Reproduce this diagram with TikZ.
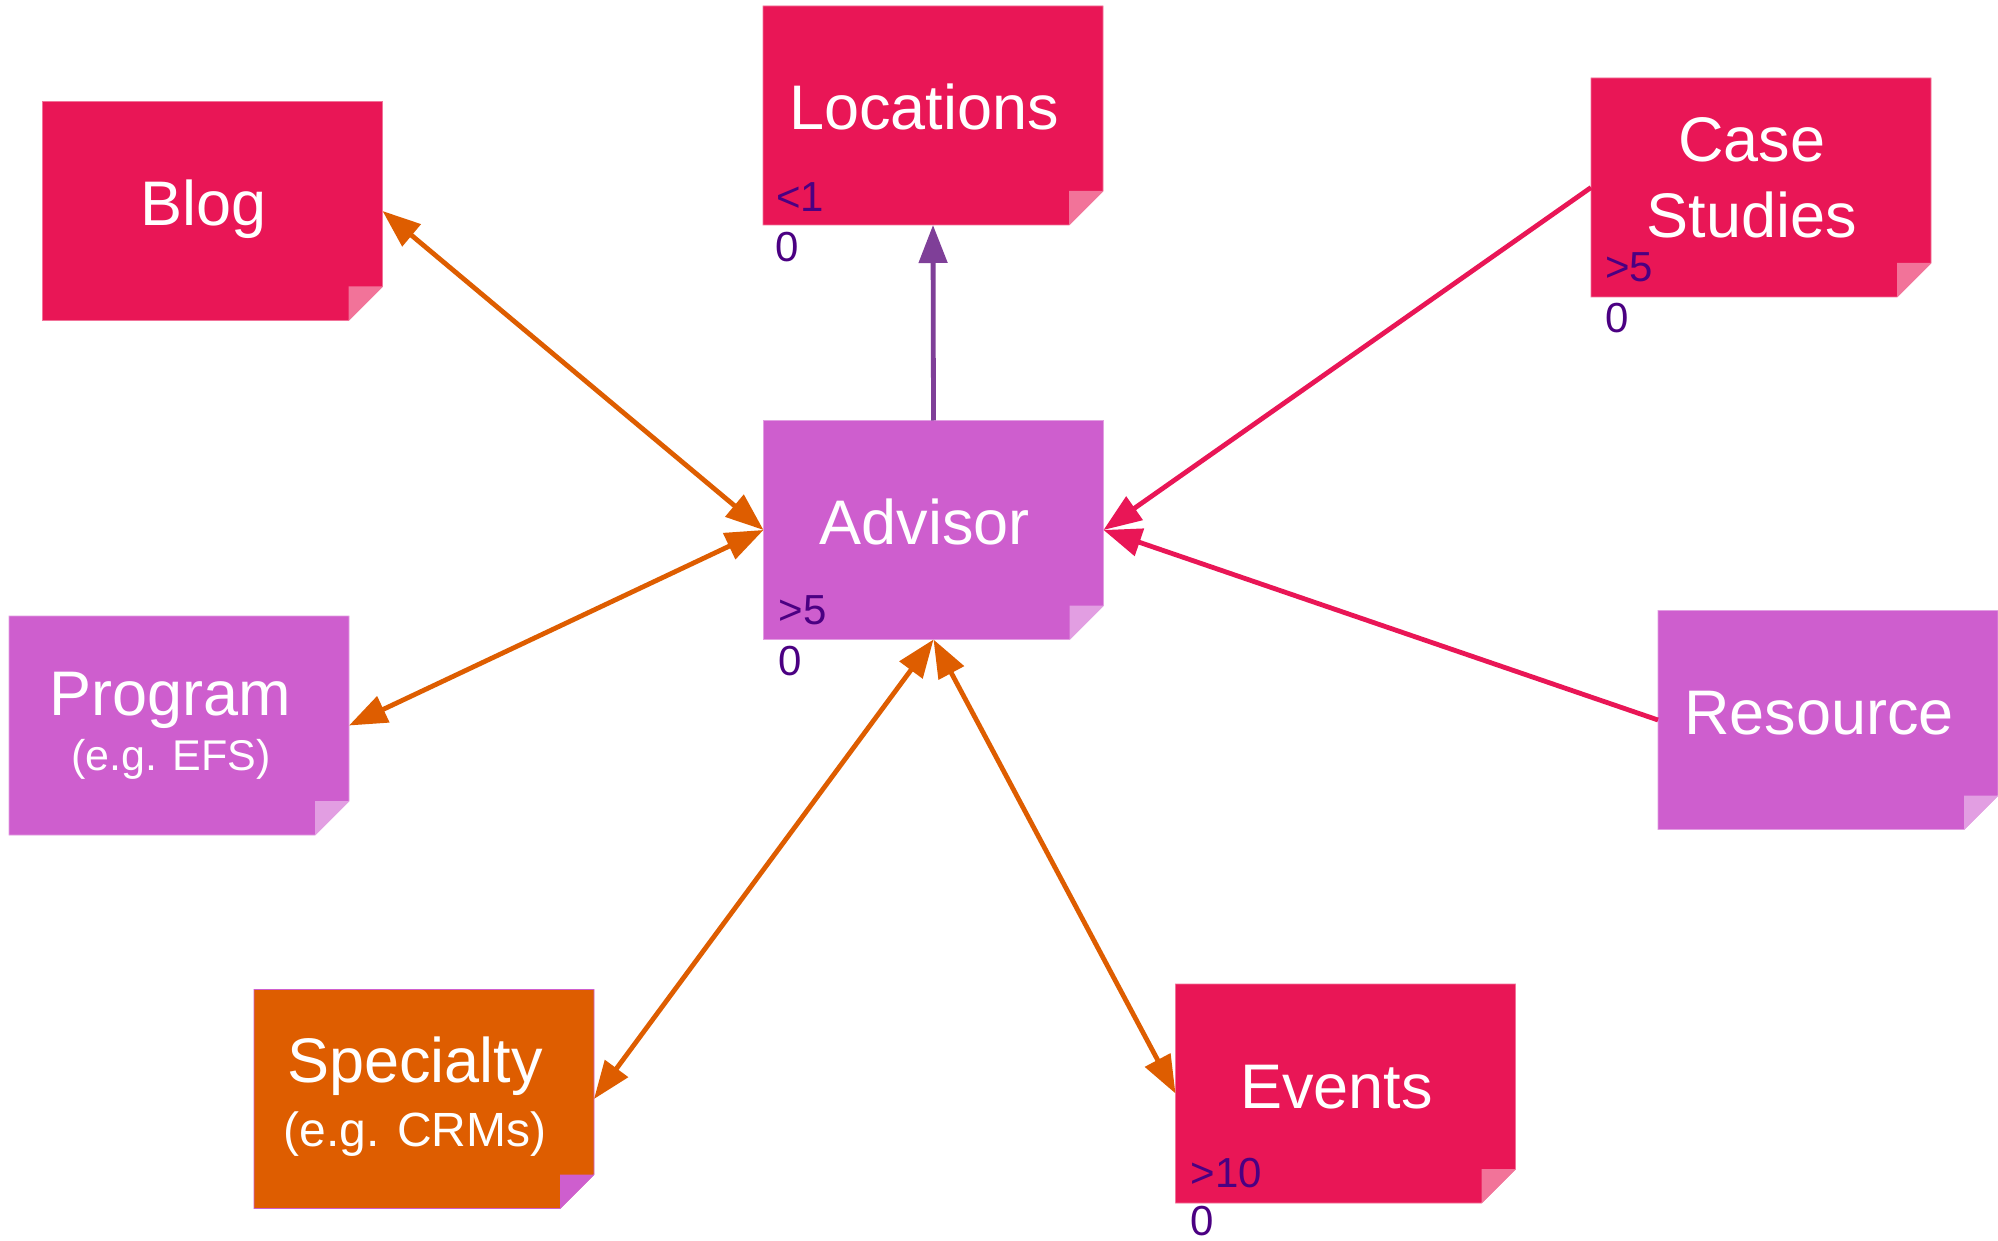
\documentclass[tikz,border=0pt]{standalone}
\usepackage{fontspec}
\setmainfont{Liberation Sans}
\usetikzlibrary{arrows.meta}
\definecolor{crim}{HTML}{E91656}
\definecolor{crimlt}{HTML}{F27399}
\definecolor{orch}{HTML}{CE5ECE}
\definecolor{orchlt}{HTML}{E29EE2}
\definecolor{orng}{HTML}{DE5D00}
\definecolor{purp}{HTML}{7F3F98}
\definecolor{lbl}{HTML}{4B0082}
\newcommand\notefold[3]{%
  \fill[#2,draw=#3,line width=0.8pt] (#1.north west) -- (#1.north east) -- ([yshift=34pt]#1.south east) -- ([xshift=-34pt]#1.south east) -- (#1.south west) -- cycle;
  \fill[#3] ([xshift=-34pt,yshift=34pt]#1.south east) -- ([yshift=34pt]#1.south east) -- ([xshift=-34pt]#1.south east) -- cycle;}
\begin{document}
\begin{tikzpicture}[x=1pt,y=-1pt,
  notebox/.style={minimum width=340pt,minimum height=219pt,inner sep=0pt,outer sep=0pt},
  maintext/.style={text=white,font=\fontsize{63}{70}\selectfont,anchor=base,inner sep=0pt},
  subtext/.style={text=white,anchor=base,inner sep=0pt},
  cnt/.style={text=lbl,font=\fontsize{42}{48}\selectfont,anchor=base west,inner sep=0pt},
  conn/.style={line width=4.8pt},
  tip/.tip={Triangle[length=38pt,width=28pt]}]
\useasboundingbox (0,0) rectangle (1998,1241);
\fill[white] (0,0) rectangle (1998,1241);
% boxes
\node[notebox] (blog) at (212.5,211) {};
\node[notebox] (loc) at (933,115.5) {};
\node[notebox] (case) at (1761,187.5) {};
\node[notebox] (adv) at (933.5,530) {};
\node[notebox] (prog) at (179,725.5) {};
\node[notebox] (res) at (1828,720) {};
\node[notebox] (spec) at (424,1099) {};
\node[notebox] (ev) at (1345.5,1093.5) {};
\notefold{blog}{crim}{crimlt}
\notefold{loc}{crim}{crimlt}
\notefold{case}{crim}{crimlt}
\notefold{ev}{crim}{crimlt}
\notefold{adv}{orch}{orchlt}
\notefold{prog}{orch}{orchlt}
\notefold{res}{orch}{orchlt}
\notefold{spec}{orng}{orch}
% texts
\node[maintext] (blogt) at ([shift={(-9pt,-14.5pt)}]blog.center) {Blog};
\node[maintext] (loct) at ([shift={(-9pt,-14.5pt)}]loc.center) {Locations};
\node[maintext] (advt) at ([shift={(-9pt,-14.5pt)}]adv.center) {Advisor};
\node[maintext] (rest) at ([shift={(-9pt,-14.5pt)}]res.center) {Resource};
\node[maintext] (evt) at ([shift={(-9pt,-14.5pt)}]ev.center) {Events};
\node[maintext] (caset1) at ([shift={(-9pt,25.5pt)}]case.center) {Case};
\node[maintext] (caset2) at ([shift={(-9pt,-50.5pt)}]case.center) {Studies};
\node[maintext] (progt1) at ([shift={(-9pt,10.5pt)}]prog.center) {Program};
\node[subtext,font=\fontsize{43}{50}\selectfont] (progt2) at ([shift={(-8pt,-44.5pt)}]prog.center) {(e.g. EFS)};
\node[maintext] (spect1) at ([shift={(-9pt,17pt)}]spec.center) {Specialty};
\node[subtext,font=\fontsize{48}{55}\selectfont] (spect2) at ([shift={(-9pt,-47pt)}]spec.center) {(e.g. CRMs)};
% counts
\node[cnt] (locc1) at ([shift={(13pt,13pt)}]loc.south west) {<1};
\node[cnt] (locc2) at ([shift={(12pt,-37pt)}]loc.south west) {0};
\node[cnt] (advc1) at ([shift={(15pt,15pt)}]adv.south west) {>5};
\node[cnt] (advc2) at ([shift={(15pt,-36pt)}]adv.south west) {0};
\node[cnt] (casec1) at ([shift={(14pt,15pt)}]case.south west) {>5};
\node[cnt] (casec2) at ([shift={(14pt,-36pt)}]case.south west) {0};
\node[cnt] (evc1) at ([shift={(15pt,16pt)}]ev.south west) {>10};
\node[cnt] (evc2) at ([shift={(15pt,-32pt)}]ev.south west) {0};
% connectors
\draw[conn,purp,-tip] (adv.north) -- (loc.south);
\draw[conn,orng,tip-tip] (blog.east) -- (adv.west);
\draw[conn,orng,tip-tip] (prog.east) -- (adv.west);
\draw[conn,orng,tip-tip] (spec.east) -- (adv.south);
\draw[conn,orng,tip-tip] (ev.west) -- (adv.south);
\draw[conn,crim,-tip] (case.west) -- (adv.east);
\draw[conn,crim,-tip] (res.west) -- (adv.east);
\end{tikzpicture}
\end{document}
